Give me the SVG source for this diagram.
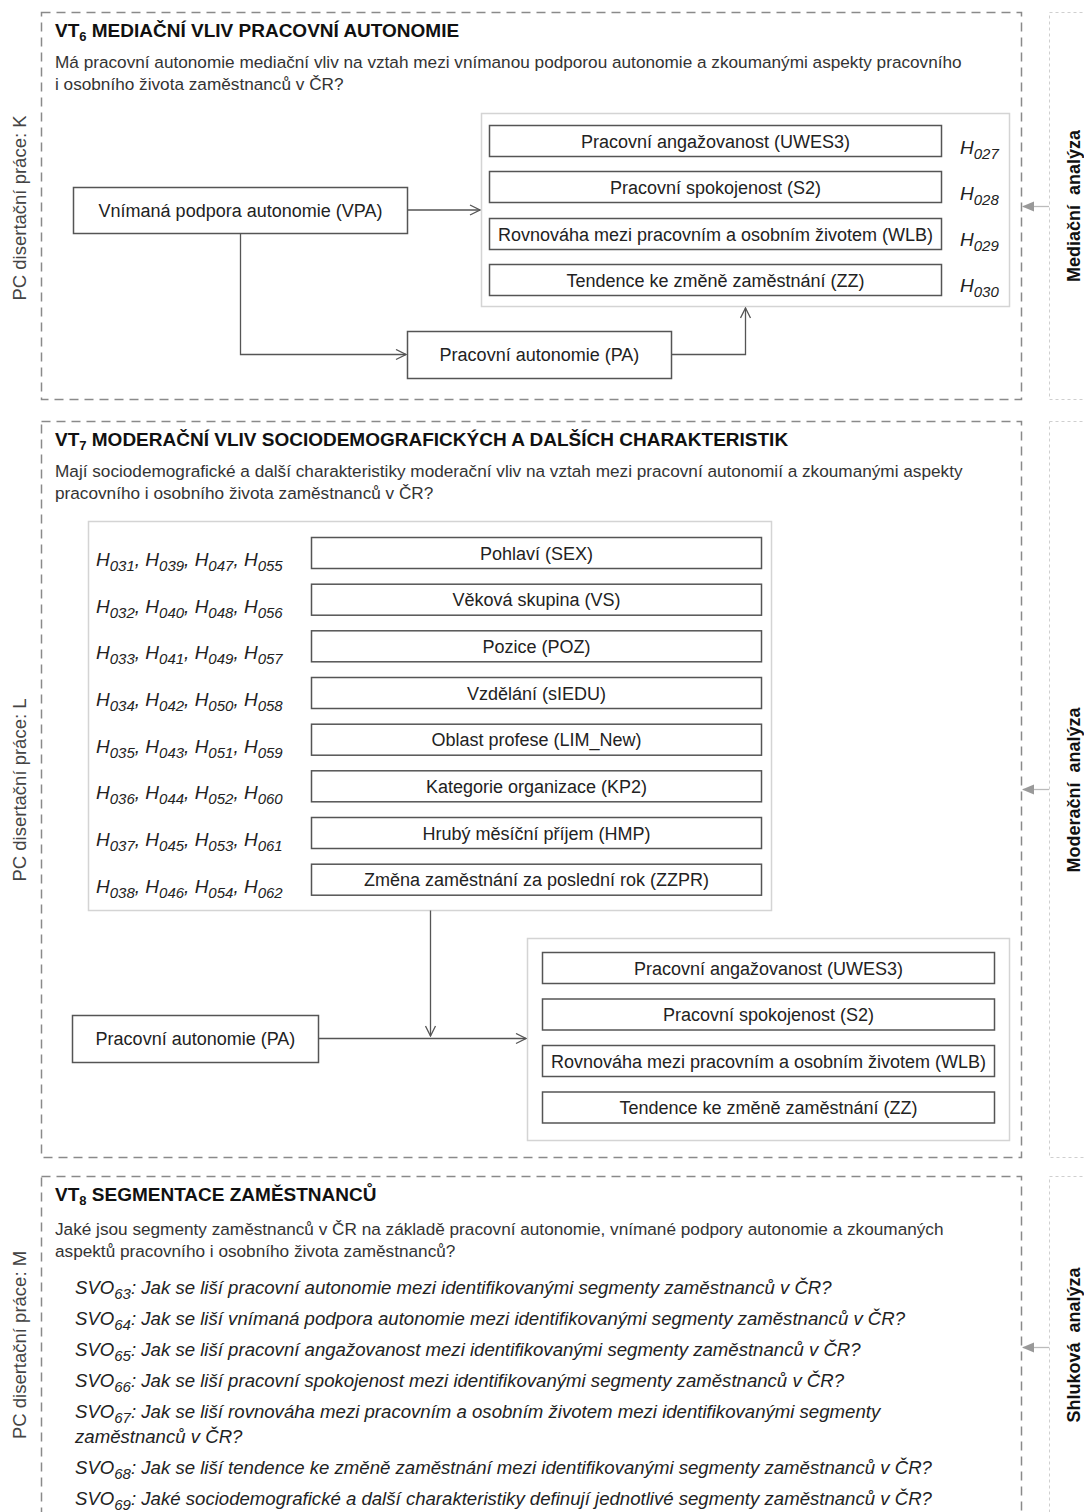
<svg xmlns="http://www.w3.org/2000/svg" width="1084" height="1512" viewBox="0 0 1084 1512">
  <style>
    text { font-family: "Liberation Sans", Arial, sans-serif; }
    .frame { fill: none; stroke: #8a8a8a; stroke-width: 1.5; stroke-dasharray: 9 6; }
    .side { fill: none; stroke: #cfcfcf; stroke-width: 1; stroke-dasharray: 3 3; }
    .group { fill: #fff; stroke: #d4d4d4; stroke-width: 1.5; }
    .box { fill: #fff; stroke: #555; stroke-width: 1.5; }
    .title { font-size: 19px; font-weight: bold; fill: #111; }
    .quest { font-size: 17.2px; fill: #333; }
    .lbl { font-size: 18px; fill: #222; text-anchor: middle; }
    .hyp { font-size: 19px; font-style: italic; fill: #222; }
    .svo { font-size: 18.6px; font-style: italic; fill: #222; }
    .sub { font-size: 15px; }
    .pc { font-size: 18.5px; fill: #444; text-anchor: middle; }
    .method { font-size: 18px; font-weight: bold; fill: #111; text-anchor: middle; word-spacing: 5px; }
    .conn { fill: none; stroke: #555; stroke-width: 1.3; }
    .link { fill: none; stroke: #bbb; stroke-width: 1.3; }
  </style>
  <defs>
    <marker id="open" viewBox="0 0 12 12" refX="11" refY="6" markerWidth="12" markerHeight="12" markerUnits="userSpaceOnUse" orient="auto">
      <path d="M1,1 L11,6 L1,11" fill="none" stroke="#555" stroke-width="1.3"/>
    </marker>
    <marker id="solid" viewBox="0 0 12 12" refX="11" refY="6" markerWidth="12" markerHeight="12" markerUnits="userSpaceOnUse" orient="auto">
      <path d="M0,1 L12,6 L0,11 Z" fill="#999"/>
    </marker>
  </defs>

  <!-- ===== VT6: mediation ===== -->
  <g id="vt6">
    <rect class="frame" x="41.5" y="12.5" width="980" height="387"/>
    <text class="title" x="55" y="37">VT<tspan font-size="13" dy="4">6</tspan><tspan dy="-4"> MEDIAČNÍ VLIV PRACOVNÍ AUTONOMIE</tspan></text>
    <text class="quest" x="55" y="68">Má pracovní autonomie mediační vliv na vztah mezi vnímanou podporou autonomie a zkoumanými aspekty pracovního</text>
    <text class="quest" x="55" y="90">i osobního života zaměstnanců v ČR?</text>
    <text class="pc" transform="translate(26 208) rotate(-90)">PC disertační práce: K</text>
  </g>
  <g id="vt6-outcomes">
    <rect class="group" x="481.5" y="113.5" width="528" height="193"/>
  </g>
  <g id="vt6-uwes3">
    <rect class="box" x="489.5" y="125.5" width="452" height="31"/>
    <text class="lbl" x="715.5" y="147.5">Pracovní angažovanost (UWES3)</text>
    <text class="hyp" x="960" y="154">H<tspan class="sub" dy="5">027</tspan></text>
  </g>
  <g id="vt6-s2">
    <rect class="box" x="489.5" y="171.5" width="452" height="31"/>
    <text class="lbl" x="715.5" y="193.5">Pracovní spokojenost (S2)</text>
    <text class="hyp" x="960" y="200">H<tspan class="sub" dy="5">028</tspan></text>
  </g>
  <g id="vt6-wlb">
    <rect class="box" x="489.5" y="218.5" width="452" height="31"/>
    <text class="lbl" x="715.5" y="240.5">Rovnováha mezi pracovním a osobním životem (WLB)</text>
    <text class="hyp" x="960" y="246">H<tspan class="sub" dy="5">029</tspan></text>
  </g>
  <g id="vt6-zz">
    <rect class="box" x="489.5" y="264.5" width="452" height="31"/>
    <text class="lbl" x="715.5" y="286.5">Tendence ke změně zaměstnání (ZZ)</text>
    <text class="hyp" x="960" y="292">H<tspan class="sub" dy="5">030</tspan></text>
  </g>
  <g id="vt6-vpa">
    <rect class="box" x="73.5" y="187.5" width="334" height="46"/>
    <text class="lbl" x="240.5" y="217">Vnímaná podpora autonomie (VPA)</text>
  </g>
  <g id="vt6-pa">
    <rect class="box" x="407.5" y="331.5" width="264" height="47"/>
    <text class="lbl" x="539.5" y="361">Pracovní autonomie (PA)</text>
  </g>
  <g id="vt6-method">
    <rect class="side" x="1049.5" y="12.5" width="60" height="387"/>
    <text class="method" transform="translate(1080 206) rotate(-90)">Mediační analýza</text>
  </g>

  <!-- ===== VT7: moderation ===== -->
  <g id="vt7">
    <rect class="frame" x="41.5" y="421.5" width="980" height="736"/>
    <text class="title" x="55" y="446">VT<tspan font-size="13" dy="4">7</tspan><tspan dy="-4"> MODERAČNÍ VLIV SOCIODEMOGRAFICKÝCH A DALŠÍCH CHARAKTERISTIK</tspan></text>
    <text class="quest" x="55" y="477">Mají sociodemografické a další charakteristiky moderační vliv na vztah mezi pracovní autonomií a zkoumanými aspekty</text>
    <text class="quest" x="55" y="499">pracovního i osobního života zaměstnanců v ČR?</text>
    <text class="pc" transform="translate(26 790) rotate(-90)">PC disertační práce: L</text>
  </g>
  <g id="vt7-moderators">
    <rect class="group" x="88.5" y="521.5" width="683" height="389"/>
    <text class="hyp" x="96" y="566">H<tspan class="sub" dy="5">031</tspan><tspan dy="-5">, H</tspan><tspan class="sub" dy="5">039</tspan><tspan dy="-5">, H</tspan><tspan class="sub" dy="5">047</tspan><tspan dy="-5">, H</tspan><tspan class="sub" dy="5">055</tspan></text>
    <text class="hyp" x="96" y="612.7">H<tspan class="sub" dy="5">032</tspan><tspan dy="-5">, H</tspan><tspan class="sub" dy="5">040</tspan><tspan dy="-5">, H</tspan><tspan class="sub" dy="5">048</tspan><tspan dy="-5">, H</tspan><tspan class="sub" dy="5">056</tspan></text>
    <text class="hyp" x="96" y="659.3">H<tspan class="sub" dy="5">033</tspan><tspan dy="-5">, H</tspan><tspan class="sub" dy="5">041</tspan><tspan dy="-5">, H</tspan><tspan class="sub" dy="5">049</tspan><tspan dy="-5">, H</tspan><tspan class="sub" dy="5">057</tspan></text>
    <text class="hyp" x="96" y="706">H<tspan class="sub" dy="5">034</tspan><tspan dy="-5">, H</tspan><tspan class="sub" dy="5">042</tspan><tspan dy="-5">, H</tspan><tspan class="sub" dy="5">050</tspan><tspan dy="-5">, H</tspan><tspan class="sub" dy="5">058</tspan></text>
    <text class="hyp" x="96" y="752.7">H<tspan class="sub" dy="5">035</tspan><tspan dy="-5">, H</tspan><tspan class="sub" dy="5">043</tspan><tspan dy="-5">, H</tspan><tspan class="sub" dy="5">051</tspan><tspan dy="-5">, H</tspan><tspan class="sub" dy="5">059</tspan></text>
    <text class="hyp" x="96" y="799.3">H<tspan class="sub" dy="5">036</tspan><tspan dy="-5">, H</tspan><tspan class="sub" dy="5">044</tspan><tspan dy="-5">, H</tspan><tspan class="sub" dy="5">052</tspan><tspan dy="-5">, H</tspan><tspan class="sub" dy="5">060</tspan></text>
    <text class="hyp" x="96" y="846">H<tspan class="sub" dy="5">037</tspan><tspan dy="-5">, H</tspan><tspan class="sub" dy="5">045</tspan><tspan dy="-5">, H</tspan><tspan class="sub" dy="5">053</tspan><tspan dy="-5">, H</tspan><tspan class="sub" dy="5">061</tspan></text>
    <text class="hyp" x="96" y="892.7">H<tspan class="sub" dy="5">038</tspan><tspan dy="-5">, H</tspan><tspan class="sub" dy="5">046</tspan><tspan dy="-5">, H</tspan><tspan class="sub" dy="5">054</tspan><tspan dy="-5">, H</tspan><tspan class="sub" dy="5">062</tspan></text>
  </g>
  <g id="vt7-sex">
    <rect class="box" x="311.5" y="537.5" width="450" height="31"/>
    <text class="lbl" x="536.5" y="559.5">Pohlaví (SEX)</text>
  </g>
  <g id="vt7-vs">
    <rect class="box" x="311.5" y="584.2" width="450" height="31"/>
    <text class="lbl" x="536.5" y="606.2">Věková skupina (VS)</text>
  </g>
  <g id="vt7-poz">
    <rect class="box" x="311.5" y="630.8" width="450" height="31"/>
    <text class="lbl" x="536.5" y="652.8">Pozice (POZ)</text>
  </g>
  <g id="vt7-siedu">
    <rect class="box" x="311.5" y="677.5" width="450" height="31"/>
    <text class="lbl" x="536.5" y="699.5">Vzdělání (sIEDU)</text>
  </g>
  <g id="vt7-lim">
    <rect class="box" x="311.5" y="724.2" width="450" height="31"/>
    <text class="lbl" x="536.5" y="746.2">Oblast profese (LIM_New)</text>
  </g>
  <g id="vt7-kp2">
    <rect class="box" x="311.5" y="770.8" width="450" height="31"/>
    <text class="lbl" x="536.5" y="792.8">Kategorie organizace (KP2)</text>
  </g>
  <g id="vt7-hmp">
    <rect class="box" x="311.5" y="817.5" width="450" height="31"/>
    <text class="lbl" x="536.5" y="839.5">Hrubý měsíční příjem (HMP)</text>
  </g>
  <g id="vt7-zzpr">
    <rect class="box" x="311.5" y="864.2" width="450" height="31"/>
    <text class="lbl" x="536.5" y="886.2">Změna zaměstnání za poslední rok (ZZPR)</text>
  </g>
  <g id="vt7-pa">
    <rect class="box" x="72.5" y="1015.5" width="246" height="47"/>
    <text class="lbl" x="195.5" y="1045">Pracovní autonomie (PA)</text>
  </g>
  <g id="vt7-outcomes">
    <rect class="group" x="527.5" y="938.5" width="482" height="202"/>
  </g>
  <g id="vt7-uwes3">
    <rect class="box" x="542.5" y="952.5" width="452" height="31"/>
    <text class="lbl" x="768.5" y="974.5">Pracovní angažovanost (UWES3)</text>
  </g>
  <g id="vt7-s2">
    <rect class="box" x="542.5" y="999" width="452" height="31"/>
    <text class="lbl" x="768.5" y="1021">Pracovní spokojenost (S2)</text>
  </g>
  <g id="vt7-wlb">
    <rect class="box" x="542.5" y="1045.5" width="452" height="31"/>
    <text class="lbl" x="768.5" y="1067.5">Rovnováha mezi pracovním a osobním životem (WLB)</text>
  </g>
  <g id="vt7-zz">
    <rect class="box" x="542.5" y="1092" width="452" height="31"/>
    <text class="lbl" x="768.5" y="1114">Tendence ke změně zaměstnání (ZZ)</text>
  </g>
  <g id="vt7-method">
    <rect class="side" x="1049.5" y="421.5" width="60" height="736"/>
    <text class="method" transform="translate(1080 790) rotate(-90)">Moderační analýza</text>
  </g>

  <!-- ===== VT8: segmentation ===== -->
  <g id="vt8">
    <rect class="frame" x="41.5" y="1176.5" width="980" height="360"/>
    <text class="title" x="55" y="1201">VT<tspan font-size="13" dy="4">8</tspan><tspan dy="-4"> SEGMENTACE ZAMĚSTNANCŮ</tspan></text>
    <text class="quest" x="55" y="1235">Jaké jsou segmenty zaměstnanců v ČR na základě pracovní autonomie, vnímané podpory autonomie a zkoumaných</text>
    <text class="quest" x="55" y="1257">aspektů pracovního i osobního života zaměstnanců?</text>
    <text class="svo" x="75" y="1294">SVO<tspan class="sub" dy="5">63</tspan><tspan dy="-5">: Jak se liší pracovní autonomie mezi identifikovanými segmenty zaměstnanců v ČR?</tspan></text>
    <text class="svo" x="75" y="1325">SVO<tspan class="sub" dy="5">64</tspan><tspan dy="-5">: Jak se liší vnímaná podpora autonomie mezi identifikovanými segmenty zaměstnanců v ČR?</tspan></text>
    <text class="svo" x="75" y="1356">SVO<tspan class="sub" dy="5">65</tspan><tspan dy="-5">: Jak se liší pracovní angažovanost mezi identifikovanými segmenty zaměstnanců v ČR?</tspan></text>
    <text class="svo" x="75" y="1387">SVO<tspan class="sub" dy="5">66</tspan><tspan dy="-5">: Jak se liší pracovní spokojenost mezi identifikovanými segmenty zaměstnanců v ČR?</tspan></text>
    <text class="svo" x="75" y="1418">SVO<tspan class="sub" dy="5">67</tspan><tspan dy="-5">: Jak se liší rovnováha mezi pracovním a osobním životem mezi identifikovanými segmenty</tspan></text>
    <text class="svo" x="75" y="1443">zaměstnanců v ČR?</text>
    <text class="svo" x="75" y="1474">SVO<tspan class="sub" dy="5">68</tspan><tspan dy="-5">: Jak se liší tendence ke změně zaměstnání mezi identifikovanými segmenty zaměstnanců v ČR?</tspan></text>
    <text class="svo" x="75" y="1505">SVO<tspan class="sub" dy="5">69</tspan><tspan dy="-5">: Jaké sociodemografické a další charakteristiky definují jednotlivé segmenty zaměstnanců v ČR?</tspan></text>
    <text class="pc" transform="translate(26 1345) rotate(-90)">PC disertační práce: M</text>
  </g>
  <g id="vt8-method">
    <rect class="side" x="1049.5" y="1176.5" width="60" height="360"/>
    <text class="method" transform="translate(1080 1345) rotate(-90)">Shluková analýza</text>
  </g>

  <!-- connectors -->
  <g id="connectors">
    <path class="conn" d="M407.5,210 H480" marker-end="url(#open)"/>
    <path class="conn" d="M240.5,233.5 V354.5 H406" marker-end="url(#open)"/>
    <path class="conn" d="M671.5,354.5 H745.5 V308" marker-end="url(#open)"/>
    <path class="conn" d="M430.5,910.5 V1036" marker-end="url(#open)"/>
    <path class="conn" d="M318.5,1038.5 H526" marker-end="url(#open)"/>
    <path class="link" d="M1049,206.5 H1023" marker-end="url(#solid)"/>
    <path class="link" d="M1049,789.5 H1023" marker-end="url(#solid)"/>
    <path class="link" d="M1049,1347.5 H1023" marker-end="url(#solid)"/>
  </g>
</svg>
